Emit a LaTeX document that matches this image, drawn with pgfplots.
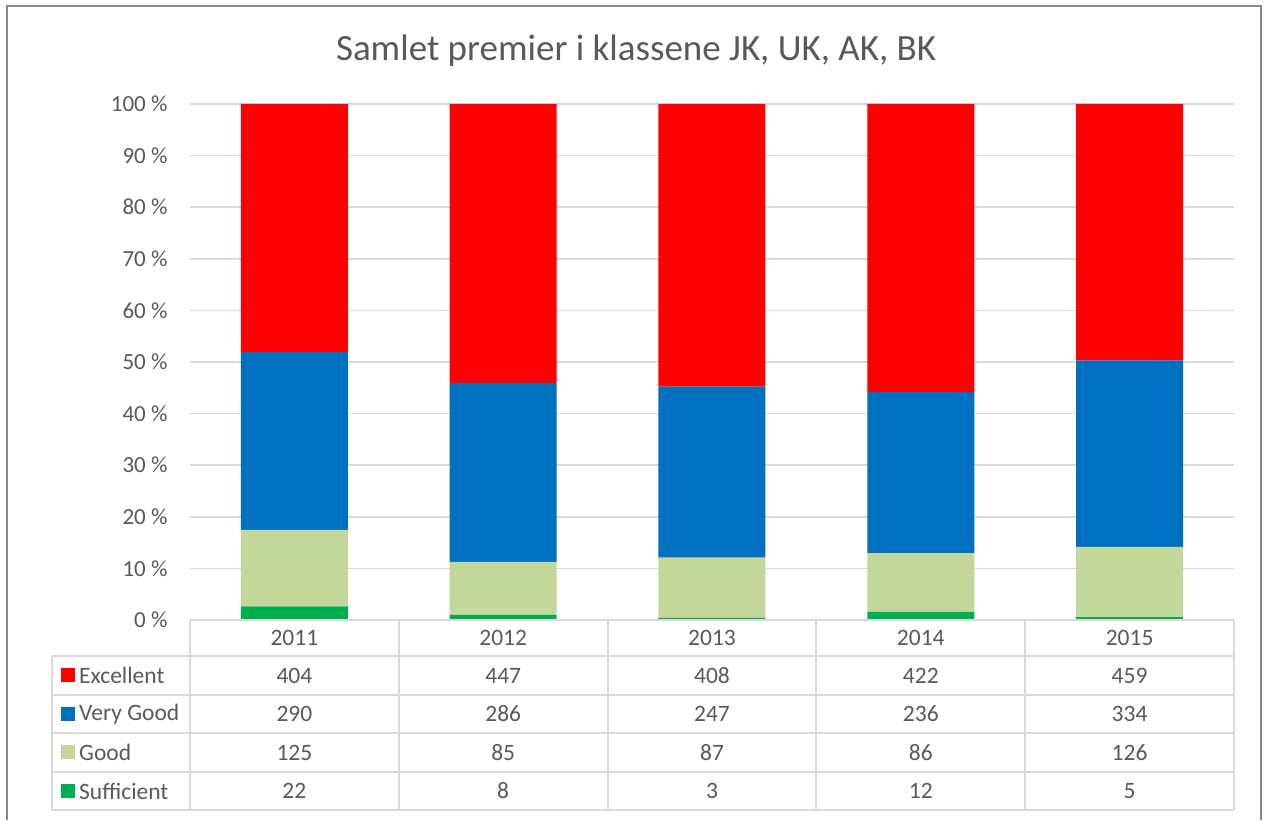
\documentclass[border=0pt]{standalone}
\usepackage{pgfplots}
\pgfplotsset{compat=1.18}
\usepackage{pgfplotstable}
\usepackage{fontspec}
\setmainfont{Carlito}
\definecolor{exc}{HTML}{FF0000}
\definecolor{vgood}{HTML}{0070C0}
\definecolor{good}{HTML}{C4D79B}
\definecolor{suff}{HTML}{00B050}
\definecolor{txt}{HTML}{595959}
\definecolor{gridc}{HTML}{D9D9D9}
\definecolor{frame}{HTML}{898989}
\pgfplotstableread{
x year E VG G S
0 2011 404 290 125 22
1 2012 447 286 85 8
2 2013 408 247 87 3
3 2014 422 236 86 12
4 2015 459 334 126 5
}\data
\begin{document}
\begin{tikzpicture}[x=1pt,y=1pt]
\path (0,0) rectangle (1264,818);
\draw[frame, line width=2pt] (7,-2) -- (7,812) -- (1261,812) -- (1261,-2);
\node[text=txt, font=\fontsize{37}{44}\selectfont, anchor=base, inner sep=0pt] at (636,757) {Samlet premier i klassene JK, UK, AK, BK};
\begin{axis}[
  at={(190pt,198pt)}, anchor=south west,
  scale only axis, width=1044pt, height=516pt,
  ybar stacked, bar width=107pt,
  xmin=-0.5, xmax=4.5, ymin=0, ymax=100,
  axis line style={draw=none},
  xtick=\empty,
  ytick={0,10,...,100},
  major tick length=0pt,
  ymajorgrids, grid style={draw=gridc, line width=1.5pt},
  yticklabel={\pgfmathprintnumber[assume math mode=true]{\tick} \%},
  yticklabel style={text=txt, font=\fontsize{23}{27}\selectfont, anchor=east, xshift=-19pt},
  clip=false,
]
\addplot[fill=suff, draw=none] table[x=x, y expr=100*\thisrow{S}/(\thisrow{E}+\thisrow{VG}+\thisrow{G}+\thisrow{S})]{\data};
\addplot[fill=good, draw=none] table[x=x, y expr=100*\thisrow{G}/(\thisrow{E}+\thisrow{VG}+\thisrow{G}+\thisrow{S})]{\data};
\addplot[fill=vgood, draw=none] table[x=x, y expr=100*\thisrow{VG}/(\thisrow{E}+\thisrow{VG}+\thisrow{G}+\thisrow{S})]{\data};
\addplot[fill=exc, draw=none] table[x=x, y expr=100*\thisrow{E}/(\thisrow{E}+\thisrow{VG}+\thisrow{G}+\thisrow{S})]{\data};
\end{axis}
% data table
\begin{scope}[draw=gridc, line width=2pt]
\draw (190,198) -- (1234,198);
\foreach \y in {162,123,85,46,8} \draw (52,\y) -- (1234,\y);
\draw (52,162) -- (52,8);
\foreach \i in {0,...,5} \draw ({190+208.8*\i},198) -- ({190+208.8*\i},8);
\end{scope}
\foreach \lab/\col/\yy in {Excellent/exc/142.5, Very Good/vgood/104, Good/good/65.5, Sufficient/suff/27} {
  \fill[\col] (61,\yy-7) rectangle (75,\yy+7);
  \node[anchor=west, text=txt, font=\fontsize{23.5}{27}\selectfont, inner sep=0pt] at (79,\yy) {\lab};
}
\foreach \i in {0,...,4} {
  \pgfplotstablegetelem{\i}{year}\of\data
  \node[text=txt, font=\fontsize{23.5}{27}\selectfont] at ({294.4+208.8*\i},180) {\pgfplotsretval};
  \pgfplotstablegetelem{\i}{E}\of\data
  \node[text=txt, font=\fontsize{23.5}{27}\selectfont] at ({294.4+208.8*\i},142.5) {\pgfplotsretval};
  \pgfplotstablegetelem{\i}{VG}\of\data
  \node[text=txt, font=\fontsize{23.5}{27}\selectfont] at ({294.4+208.8*\i},104) {\pgfplotsretval};
  \pgfplotstablegetelem{\i}{G}\of\data
  \node[text=txt, font=\fontsize{23.5}{27}\selectfont] at ({294.4+208.8*\i},65.5) {\pgfplotsretval};
  \pgfplotstablegetelem{\i}{S}\of\data
  \node[text=txt, font=\fontsize{23.5}{27}\selectfont] at ({294.4+208.8*\i},27) {\pgfplotsretval};
}
\end{tikzpicture}
\end{document}
